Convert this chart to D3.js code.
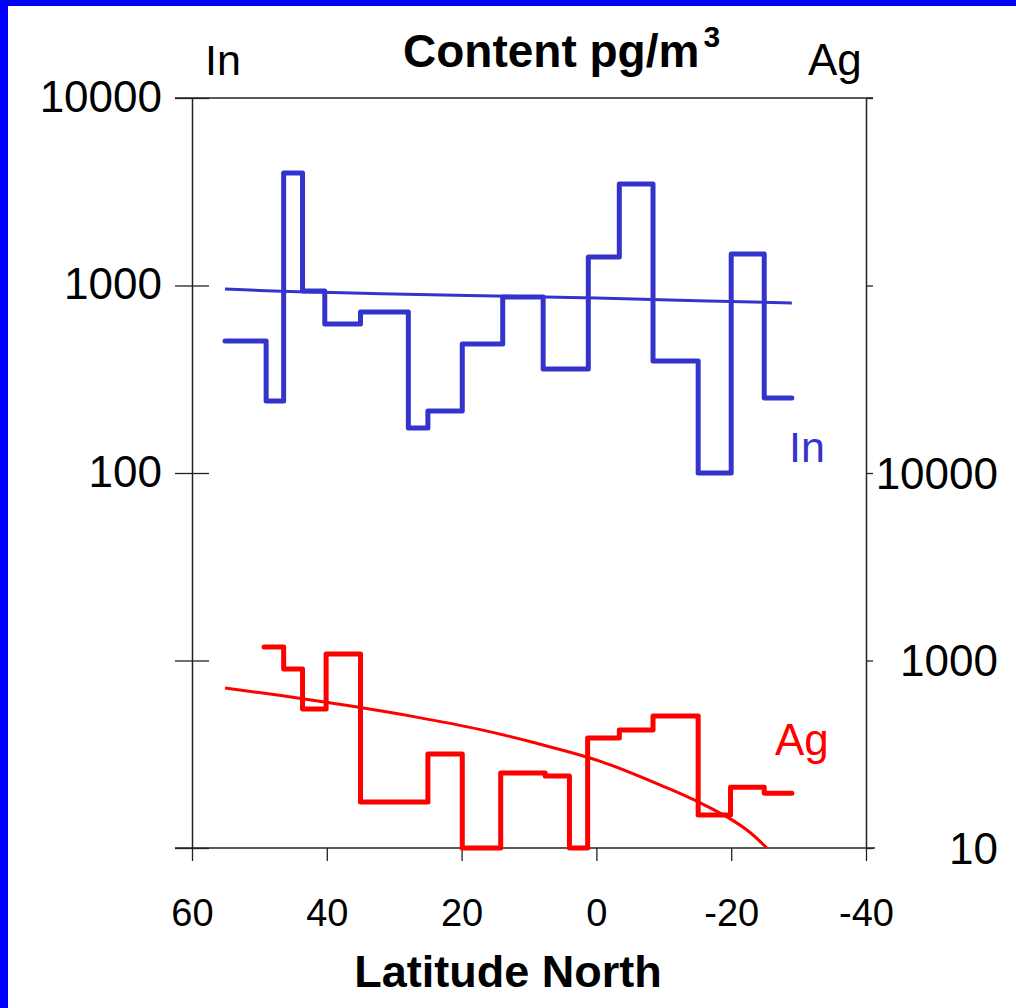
<!DOCTYPE html>
<html>
<head>
<meta charset="utf-8">
<script src="https://cdn.jsdelivr.net/npm/d3@7"></script>
<style>
  html, body { margin: 0; padding: 0; background: #fff; }
  svg { display: block; }
  text { font-family: "Liberation Sans", Arial, Helvetica, sans-serif; }
</style>
</head>
<body>
<svg id="chart" width="1016" height="1008"></svg>
<script>
// Latitude axis
const latTicks = [60, 40, 20, 0, -20, -40];

// Left (In) logarithmic axis
const leftTickValues = [1, 10, 100, 1000, 10000];
const leftTickLabels = ["", "", "100", "1000", "10000"];

// Right (Ag) logarithmic axis
const rightTickValues = [100, 1000, 10000, 100000, 1000000];
const rightTickLabels = ["10", "1000", "10000", "", ""];

// Indium: latitude band edges and the content in each band (pg/m3)
const inEdges = [55.1, 49.0, 46.4, 43.6, 40.3, 35.0, 27.9, 25.0, 19.9, 13.9, 7.9, 1.2, -3.4, -8.4, -15.1, -20.0, -24.9, -29.0];
const inValues = [506, 242, 3980, 935, 623, 722, 174, 214, 488, 869, 359, 1419, 3479, 396, 100, 1472, 251];

// Indium trend
const inTrendLat = [55.1, 49.0, 43.6, 30.0, 15.0, 0.0, -15.0, -29.0];
const inTrendVal = [958, 938, 925, 900, 879, 857, 829, 807];

// Silver: latitude band edges and the content in each band (pg/m3)
const agEdges = [49.3, 46.4, 43.6, 40.1, 35.0, 25.0, 19.9, 14.2, 7.6, 4.0, 1.3, -3.4, -8.4, -15.1, -19.9, -24.9, -29.0];
const agValues = [1180, 901, 551, 1083, 176, 317, 100, 251, 242, 100, 386, 426, 506, 150, 211, 196];

// Silver trend
const agTrendLat = [55.1, 46.8, 36.9, 27.1, 17.2, 9.3, -0.6, -10.5, -15.4, -20.3, -22.8, -25.3];
const agTrendVal = [713, 650, 575, 502, 428, 365, 290, 209, 174, 140, 121, 100];

const inColor = "#3434CC";
const agColor = "#FF0000";
const axisColor = "#222";

(function draw() {
  const svg = d3.select("#chart");
  const W = 1016, H = 1008;
  const mLeft = 192, mRight = 866, mTop = 98, mBottom = 848;

  // Background and frame
  svg.append("rect").attr("width", W).attr("height", H).attr("fill", "#fff");
  svg.append("rect").attr("x", 0).attr("y", 0).attr("width", W).attr("height", 6).attr("fill", "#0000FF");
  svg.append("rect").attr("x", 0).attr("y", 0).attr("width", 8).attr("height", H).attr("fill", "#0000FF");

  const x = d3.scaleLinear().domain([60, -40]).range([mLeft, mRight]);
  const yL = d3.scaleLog().domain([1, 10000]).range([mBottom, mTop]);
  const yR = d3.scaleLog().domain([100, 1000000]).range([mBottom, mTop]);

  // Plot frame lines (top and bottom run slightly past the axes)
  svg.append("line").attr("x1", 175).attr("x2", 873).attr("y1", mTop).attr("y2", mTop)
    .attr("stroke", axisColor).attr("stroke-width", 1.5);
  svg.append("line").attr("x1", 175).attr("x2", 875).attr("y1", mBottom).attr("y2", mBottom)
    .attr("stroke", axisColor).attr("stroke-width", 1.5);

  // Left axis
  const gL = svg.append("g").attr("transform", `translate(${mLeft},0)`)
    .call(d3.axisLeft(yL).tickValues(leftTickValues)
      .tickFormat((d, i) => leftTickLabels[i])
      .tickSizeInner(17).tickSizeOuter(0).tickPadding(13));
  gL.select(".domain").attr("stroke", axisColor).attr("stroke-width", 1.5);
  gL.selectAll(".tick line").attr("stroke", axisColor).attr("stroke-width", 1.3);
  gL.selectAll(".tick").append("line").attr("x1", 0).attr("x2", 17)
    .attr("stroke", axisColor).attr("stroke-width", 1.3);
  gL.selectAll(".tick text").attr("font-size", 44).attr("fill", "#000")
    .attr("dy", "0.3em");

  // Right axis
  const gR = svg.append("g").attr("transform", `translate(${mRight},0)`)
    .call(d3.axisRight(yR).tickValues(rightTickValues)
      .tickFormat((d, i) => rightTickLabels[i])
      .tickSizeInner(7).tickSizeOuter(0));
  gR.select(".domain").attr("stroke", axisColor).attr("stroke-width", 1.5);
  gR.selectAll(".tick line").attr("stroke", axisColor).attr("stroke-width", 1.3);
  gR.selectAll(".tick text").attr("font-size", 44).attr("fill", "#000")
    .attr("text-anchor", "end").attr("x", 132).attr("dy", "0.35em");

  // Bottom axis
  const gB = svg.append("g").attr("transform", `translate(0,${mBottom})`)
    .call(d3.axisBottom(x).tickValues(latTicks).tickFormat(d => d)
      .tickSizeInner(13).tickSizeOuter(0));
  gB.select(".domain").remove();
  gB.selectAll(".tick line").attr("stroke", axisColor).attr("stroke-width", 1.3);
  gB.selectAll(".tick text").attr("font-size", 38).attr("fill", "#000")
    .attr("y", 78).attr("dy", 0);

  // Step series built from band edges
  function stepPoints(edges, values) {
    const pts = values.map((v, i) => [edges[i], v]);
    pts.push([edges[edges.length - 1], values[values.length - 1]]);
    return pts;
  }

  const lineIn = d3.line().x(d => x(d[0])).y(d => yL(d[1])).curve(d3.curveStepAfter);
  const lineAg = d3.line().x(d => x(d[0])).y(d => yR(d[1])).curve(d3.curveStepAfter);

  // Trend curves
  svg.append("path")
    .attr("d", d3.line().x(d => x(d[0])).y(d => yL(d[1])).curve(d3.curveMonotoneX)(inTrendLat.map((l, i) => [l, inTrendVal[i]])))
    .attr("fill", "none").attr("stroke", inColor).attr("stroke-width", 3);
  svg.append("path")
    .attr("d", d3.line().x(d => x(d[0])).y(d => yR(d[1])).curve(d3.curveCatmullRom)(agTrendLat.map((l, i) => [l, agTrendVal[i]])))
    .attr("fill", "none").attr("stroke", agColor).attr("stroke-width", 3);

  svg.append("path").attr("d", lineIn(stepPoints(inEdges, inValues)))
    .attr("fill", "none").attr("stroke", inColor).attr("stroke-width", 5)
    .attr("stroke-linejoin", "round").attr("stroke-linecap", "round");
  svg.append("path").attr("d", lineAg(stepPoints(agEdges, agValues)))
    .attr("fill", "none").attr("stroke", agColor).attr("stroke-width", 5)
    .attr("stroke-linejoin", "round").attr("stroke-linecap", "round");

  // Series labels
  svg.append("text").attr("x", 789).attr("y", 462).attr("font-size", 43)
    .attr("fill", inColor).text("In");
  svg.append("text").attr("x", 775).attr("y", 755).attr("font-size", 44)
    .attr("fill", agColor).text("Ag");

  // Header
  svg.append("text").attr("x", 205).attr("y", 75).attr("font-size", 43).attr("fill", "#000").text("In");
  svg.append("text").attr("x", 808).attr("y", 75).attr("font-size", 44).attr("fill", "#000").text("Ag");
  const title = svg.append("text").attr("x", 403).attr("y", 67)
    .attr("font-size", 46).attr("font-weight", "bold").attr("fill", "#000");
  title.append("tspan").text("Content pg/m");
  title.append("tspan").attr("font-size", 30).attr("dx", 4).attr("dy", -20).text("3");

  // Axis title
  svg.append("text").attr("x", 508).attr("y", 987).attr("text-anchor", "middle")
    .attr("font-size", 45).attr("font-weight", "bold").attr("fill", "#000").text("Latitude North");
})();
</script>
</body>
</html>
